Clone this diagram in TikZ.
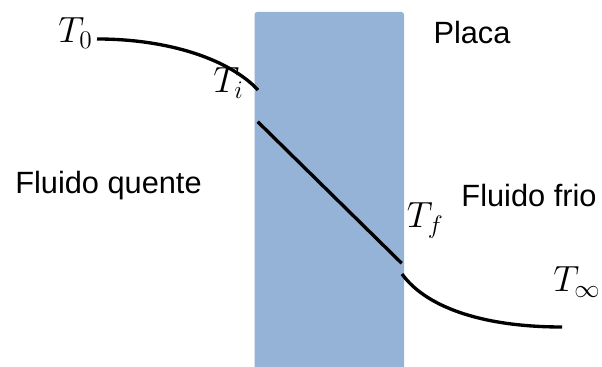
\documentclass[tikz,border=0pt]{standalone}
\usepackage{fontspec}
\setmainfont{Liberation Sans}
\definecolor{placablue}{RGB}{149,179,215}
\begin{document}
\begin{tikzpicture}[
				line join=round, line cap=butt,
				every node/.style={font=\fontsize{17.5}{20}\selectfont, inner sep=0pt},
				perfil/.style={line width=1.9pt, black},
				rotulo/.style={anchor=base west, font=\fontsize{19.5}{22}\selectfont},
				texto/.style={anchor=base}
				]
				\useasboundingbox (0,0) rectangle (12.04,7.34);
				
				% 1. PLACA
				\fill[placablue, rounded corners=1.5pt] (5.09,-0.2) rectangle (8.08,7.10);
				
				% 2. PERFIL DE TEMPERATURA
				\coordinate (p0) at (1.94,6.56);
				\coordinate (pi) at (5.16,5.54);
				\coordinate (qi) at (5.154,4.906);
				\coordinate (qf) at (8.034,2.074);
				\coordinate (pf) at (8.04,1.86);
				\coordinate (pinf) at (11.24,0.80);
				
				\draw[perfil] (p0) .. controls (3.40,6.56) and (4.60,6.14) .. (pi);
				\draw[perfil] (qi) -- (qf);
				\draw[perfil] (pf) .. controls (8.50,1.22) and (9.60,0.80) .. (pinf);
				
				% 3. RÓTULOS
				\node[rotulo] (t0) at (1.16,6.48) {$T_0$};
				\node[rotulo] (ti) at (4.26,5.48) {$T_i$};
				\node[rotulo] (tf) at (8.13,2.78) {$T_f$};
				\node[rotulo] (tinf) at (11.06,1.50) {$T_\infty$};
				
				\node[texto] (placa) at (9.44,6.46) {Placa};
				\node[texto] (quente) at (2.17,3.46) {Fluido quente};
				\node[texto] (frio) at (10.58,3.20) {Fluido frio};
				
			\end{tikzpicture}
\end{document}
